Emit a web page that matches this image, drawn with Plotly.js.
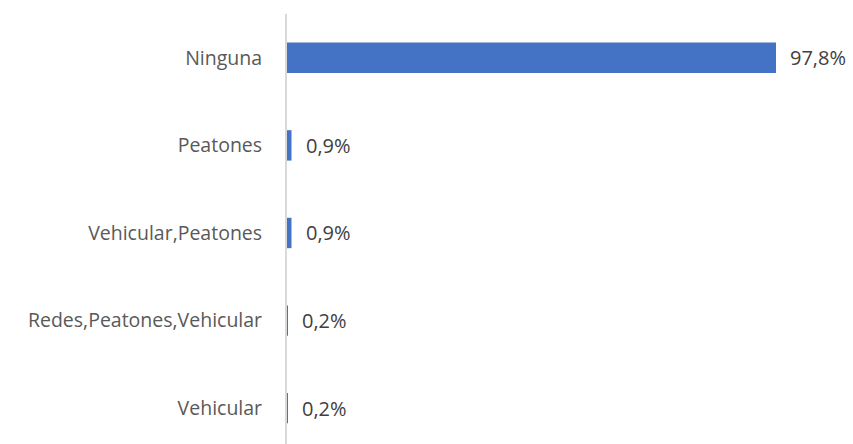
<!DOCTYPE html>
<html>
<head>
<meta charset="utf-8">
<script src="https://cdn.plot.ly/plotly-3.0.1.min.js"></script>
<style>html,body{margin:0;padding:0;background:#fff;}#chart{width:853px;height:444px;}</style>
</head>
<body>
<div id="chart"></div>
<script>
var categories = ["Vehicular", "Redes,Peatones,Vehicular", "Vehicular,Peatones", "Peatones", "Ninguna"];
var values = [0.2, 0.2, 0.9, 0.9, 97.8];
var labels = ["0,2%", "0,2%", "0,9%", "0,9%", "97,8%"];

var FONT = "'Open Sans', sans-serif";

var trace = {
  type: "bar",
  orientation: "h",
  y: categories,
  x: values,
  marker: {color: "#4472C4"},
  hoverinfo: "none"
};

var annotations = categories.map(function(c, i) {
  return {
    x: values[i], y: c, xref: "x", yref: "y",
    text: labels[i], showarrow: false,
    xanchor: "left", xshift: 12,
    font: {family: FONT, size: 20, color: "#404040"}
  };
});

var layout = {
  width: 853, height: 444,
  margin: {l: 287, r: 66, t: 14, b: 0, pad: 0},
  paper_bgcolor: "#fff", plot_bgcolor: "#fff",
  showlegend: false,
  bargap: 0.653,
  xaxis: {range: [0, 100], visible: false, fixedrange: true},
  yaxis: {
    type: "category",
    range: [-0.409, 4.5],
    showline: true, linecolor: "#d9d9d9", linewidth: 2,
    showgrid: false, zeroline: false,
    ticks: "", ticklabelstandoff: 19,
    tickfont: {family: FONT, size: 19.5, color: "#595959"}
  },
  annotations: annotations
};

Plotly.newPlot("chart", [trace], layout, {displayModeBar: false, staticPlot: true});
</script>
</body>
</html>
